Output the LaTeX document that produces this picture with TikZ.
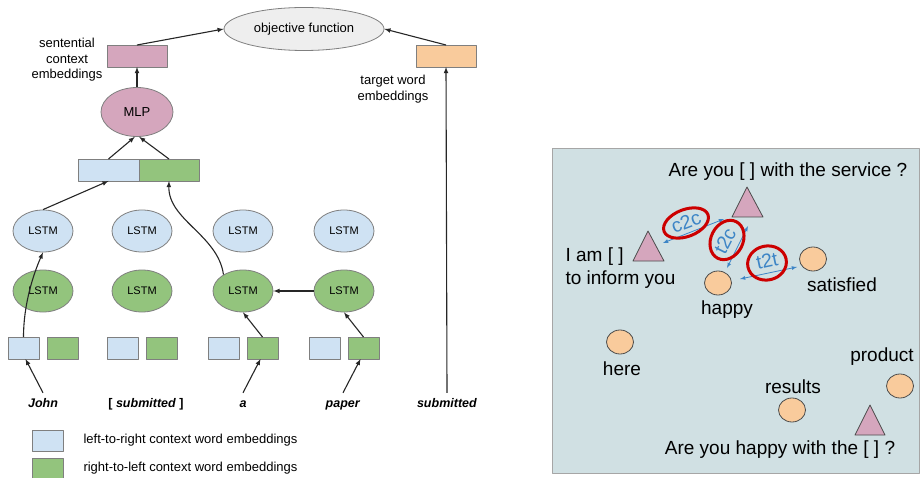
\documentclass[tikz,border=0pt]{standalone}
\usepackage{fontspec}
\setmainfont{Liberation Sans}
\usetikzlibrary{arrows,positioning,shapes.geometric}
\definecolor{pinkfill}{HTML}{D5A6BD}
\definecolor{orangefill}{HTML}{F9CB9C}
\definecolor{bluefill}{HTML}{CFE2F3}
\definecolor{greenfill}{HTML}{93C47D}
\definecolor{objfill}{HTML}{EEEEEE}
\definecolor{panelfill}{HTML}{D0E0E3}
\definecolor{edgegray}{HTML}{7F7F7F}
\definecolor{hopblue}{HTML}{3D85C6}
\definecolor{ringred}{HTML}{CC0000}
\newcommand{\lbltxt}{\fontsize{13}{15.5}\selectfont}
\newcommand{\celltxt}{\fontsize{11}{13}\selectfont}
\newcommand{\wordtxt}{\fontsize{12.5}{15}\selectfont\bfseries}
\newcommand{\bigtxt}{\fontsize{19}{23}\selectfont}
\newcommand{\tagtxt}{\fontsize{19.5}{22}\selectfont}

\begin{document}
\begin{tikzpicture}[>=latex, x=1pt, y=-1pt, line join=round,
    box/.style={draw=edgegray, line width=0.8pt, inner sep=0pt, outer sep=0pt, minimum height=22pt},
    cell/.style={ellipse, draw=edgegray, line width=0.8pt, inner sep=0pt, minimum width=60pt, minimum height=42pt, font=\celltxt},
    link/.style={->, line width=1.1pt, draw=black!85},
    wordpt/.style={ellipse, draw=black!70, line width=0.8pt, fill=orangefill, minimum width=27pt, minimum height=24pt, inner sep=0pt},
    tri/.style={draw=black!70, fill=pinkfill, line width=0.8pt},
    hop/.style={<->, draw=hopblue, line width=0.8pt},
    ring/.style={ellipse, draw=ringred, line width=3pt, inner sep=0pt},
    tag/.style={text=hopblue, font=\tagtxt, inner sep=0pt}]
    \useasboundingbox (0,0) rectangle (920,478);

    % left: the model
    \node[ellipse, draw=edgegray, line width=0.8pt, fill=objfill, minimum width=160pt, minimum height=43pt, inner sep=0pt, font=\lbltxt] (obj) at (304,29) {objective function};
    \node[box, fill=pinkfill, minimum width=60pt] (sent) at (137,56) {};
    \node[box, fill=orangefill, minimum width=60pt] (targ) at (446,56) {};
    \node[align=center, font=\lbltxt] (senttxt) at (67,60) {sentential\\context\\embeddings};
    \node[align=center, font=\lbltxt] (targtxt) at (393,89) {target word\\embeddings};
    \node[ellipse, draw=edgegray, line width=0.8pt, fill=pinkfill, minimum width=72pt, minimum height=49pt, inner sep=0pt, font=\lbltxt] (mlp) at (137,112) {MLP};
    \node[box, fill=bluefill, minimum width=61pt] (cblue) at (108.5,170) {};
    \node[box, fill=greenfill, minimum width=60pt, right=0pt of cblue] (cgreen) {};

    \foreach \x/\n in {43/1,142/2,243/3,344/4} {
      \node[cell, fill=bluefill] (b\n) at (\x,231) {LSTM};
      \node[cell, fill=greenfill] (g\n) at (\x,291) {LSTM};
      \node[box, fill=bluefill, minimum width=31pt] (lb\n) at (\x-19.5,348) {};
      \node[box, fill=greenfill, minimum width=31pt] (rg\n) at (\x+19.5,348) {};
    }

    \node[font=\wordtxt, inner sep=5pt, text height=9pt, text depth=3pt] (w1) at (43,404) {\textit{John}};
    \node[font=\wordtxt, inner sep=5pt, text height=9pt, text depth=3pt] (w2) at (146,404) {[ \textit{submitted} ]};
    \node[font=\wordtxt, inner sep=5pt, text height=9pt, text depth=3pt] (w3) at (243,404) {\textit{a}};
    \node[font=\wordtxt, inner sep=5pt, text height=9pt, text depth=3pt] (w4) at (343,404) {\textit{paper}};
    \node[font=\wordtxt, inner sep=5pt, text height=9pt, text depth=3pt] (w5) at (447,404) {\textit{submitted}};

    \draw[link] (w1.north) -- ([xshift=2pt]lb1.south);
    \draw[link] (w3.north) -- ([xshift=-2pt]rg3.south);
    \draw[link] (w4.north) -- ([xshift=-3pt]rg4.south);
    \draw[link] (w5.north) -- (targ.south);
    \draw[link] (rg3.north) -- (g3.south);
    \draw[link] (rg4.north) -- (g4.south);
    \draw[link] (g4.west) -- (g3.east);
    \draw[link] (lb1.north) .. controls (23.5,305) and (33,275) .. (b1.south);
    \draw[link] (b1.north) -- (cblue.south);
    \draw[link] (g3.140) .. controls (218,235) and (168,220) .. (cgreen.south);
    \draw[link] (cblue.north) -- (mlp.265);
    \draw[link] (cgreen.north) -- (mlp.275);
    \draw[link] (mlp.north) -- (sent.south);
    \draw[link] (sent.north) -- (obj.west);
    \draw[link] (targ.north) -- (obj.east);

    % legend
    \node[box, fill=bluefill, minimum width=31pt, minimum height=21pt] (keyb) at (47.5,441) {};
    \node[box, fill=greenfill, minimum width=31pt, minimum height=21pt] (keyg) at (47.5,469) {};
    \node[anchor=west, font=\lbltxt] (keybtxt) at (80,440) {left-to-right context word embeddings};
    \node[anchor=west, font=\lbltxt] (keygtxt) at (80,468) {right-to-left context word embeddings};

    % right: the embedding space
    \draw[draw=gray!70, fill=panelfill, line width=0.8pt] (552,148) rectangle (919,473);
    \draw[tri] (747,187) -- (763,217) -- (732,217) -- cycle;
    \draw[tri] (648,231) -- (664,261) -- (633,261) -- cycle;
    \draw[tri] (870,405) -- (885,435) -- (855,435) -- cycle;
    \node[wordpt] (happy) at (718,283) {};
    \node[wordpt] (satis) at (813,259) {};
    \node[wordpt] (here) at (620,342) {};
    \node[wordpt] (res) at (792,410) {};
    \node[wordpt] (prod) at (900,386) {};

    \node[font=\bigtxt] (q1) at (788,172) {Are you [ ] with the service ?};
    \node[font=\bigtxt, align=left, anchor=west] (q2) at (562,268.5) {I am [ ]\\to inform you};
    \node[font=\bigtxt] (q3) at (780,450) {Are you happy with the [ ] ?};
    \node[font=\bigtxt] (happytxt) at (727,310) {happy};
    \node[font=\bigtxt] (satistxt) at (842,285) {satisfied};
    \node[font=\bigtxt] (heretxt) at (622,369) {here};
    \node[font=\bigtxt] (restxt) at (793,387) {results};
    \node[font=\bigtxt] (prodtxt) at (882,357) {product};

    \coordinate (c2ca) at (663,243);
    \coordinate (c2cb) at (724,219);
    \coordinate (t2ca) at (727,268);
    \coordinate (t2cb) at (748,226);
    \coordinate (t2ta) at (740,279);
    \coordinate (t2tb) at (797,267);
    \draw[hop] (c2ca) -- (c2cb);
    \draw[hop] (t2ca) -- (t2cb);
    \draw[hop] (t2ta) -- (t2tb);
    \node[tag, rotate=21] (c2c) at (686,222) {c2c};
    \node[tag, rotate=63] (t2c) at (725,241) {t2c};
    \node[tag, rotate=12] (t2t) at (767,261) {t2t};
    \node[ring, rotate=21, minimum width=47pt, minimum height=27pt] (c2cring) at (686,223) {};
    \node[ring, rotate=63, minimum width=41pt, minimum height=32pt] (t2cring) at (727,240) {};
    \node[ring, rotate=12, minimum width=39pt, minimum height=34pt] (t2tring) at (767,263) {};
  \end{tikzpicture}
\end{document}
